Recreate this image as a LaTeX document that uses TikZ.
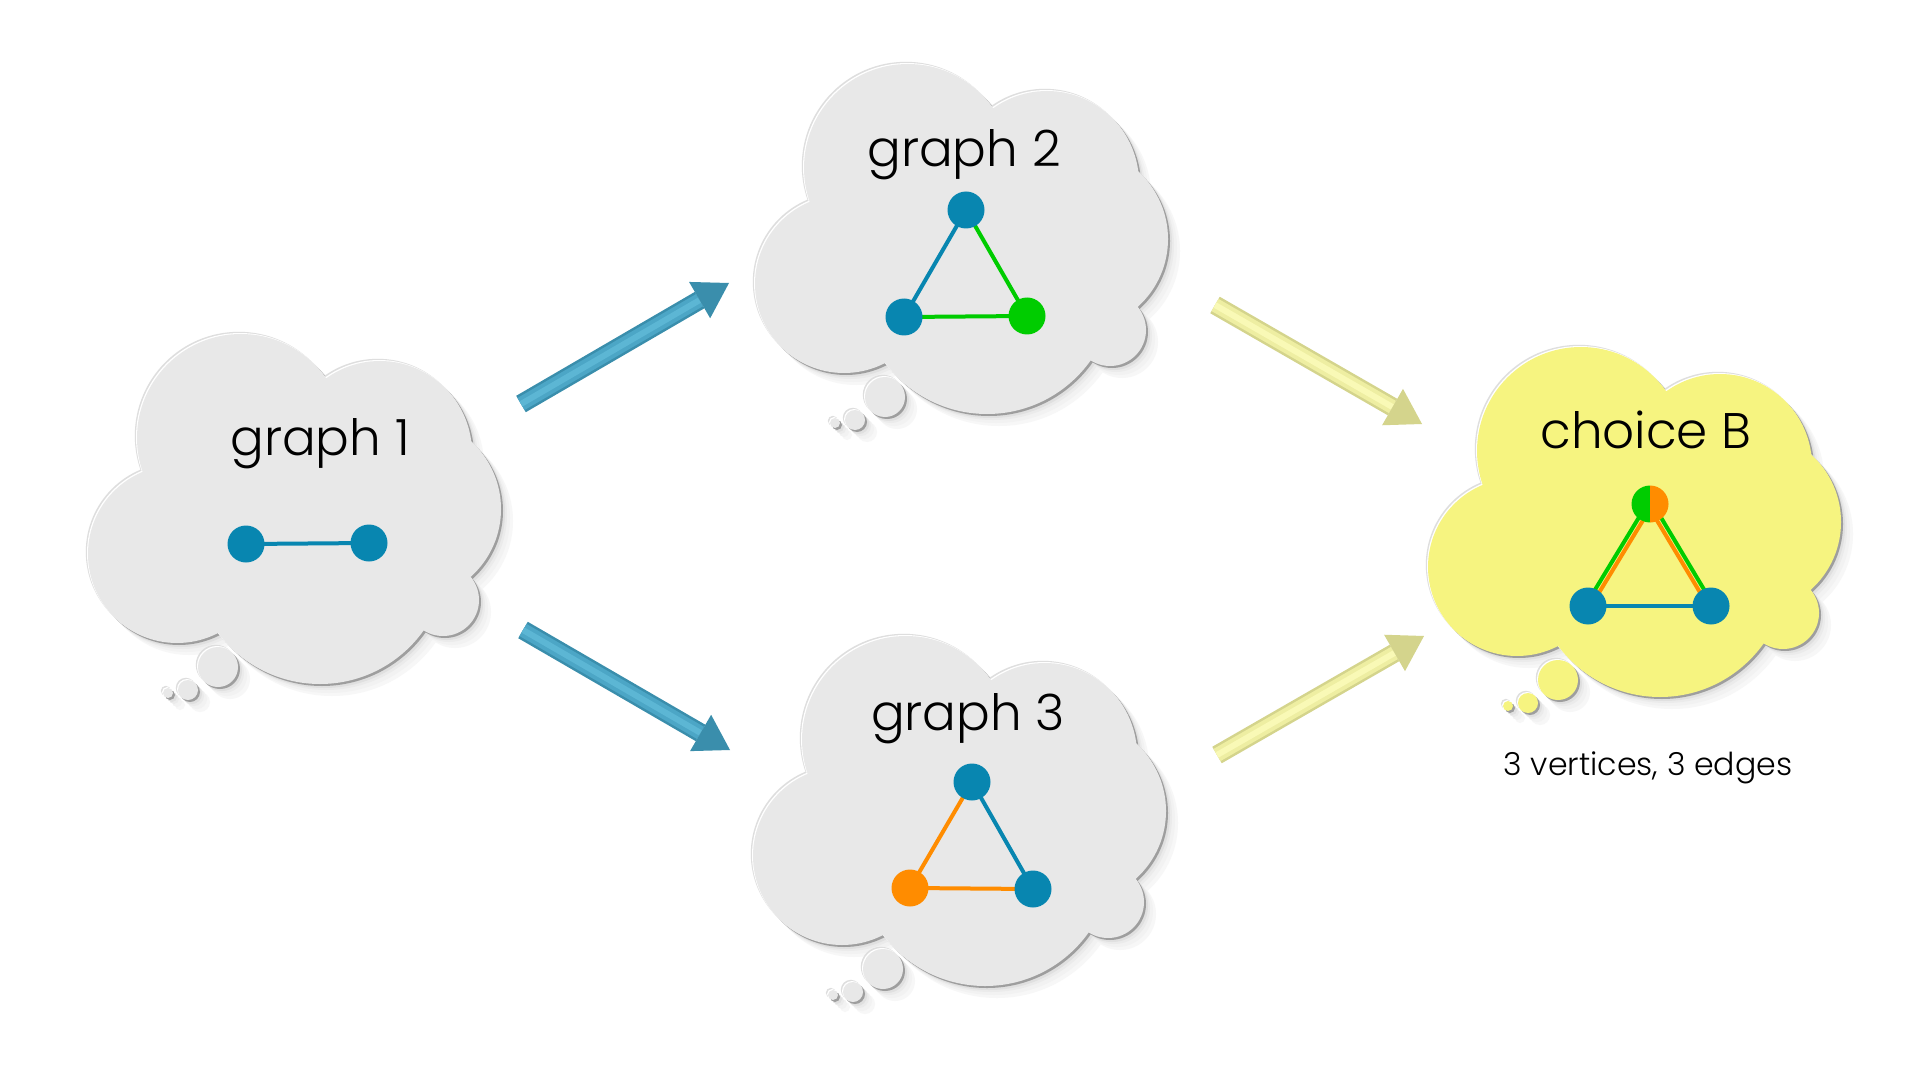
\documentclass[tikz,border=0pt]{standalone}
\usepackage{fontspec}
\setmainfont{Poppins}[UprightFont=* Light]
\usetikzlibrary{calc}
\definecolor{cloudgray}{RGB}{232,232,232}
\definecolor{cloudyellow}{RGB}{246,244,128}
\definecolor{vblue}{RGB}{8,134,176}
\definecolor{vgreen}{RGB}{0,204,0}
\definecolor{vorange}{RGB}{255,140,0}
\definecolor{abdark}{RGB}{58,142,172}
\definecolor{abmid}{RGB}{76,166,198}
\definecolor{ablight}{RGB}{92,182,212}
\definecolor{aydark}{RGB}{212,212,140}
\definecolor{aymid}{RGB}{238,238,162}
\definecolor{aylight}{RGB}{249,249,182}
\newcommand\cloudbody[1]{\path[#1] (152,104) circle[radius=104] (291,119) circle[radius=92] (321,175) circle[radius=91] (354,266) circle[radius=36] (231,223) circle[radius=127] (88,220) circle[radius=89] (129,333) circle[radius=20] (99,356) circle[radius=10] (79,359) circle[radius=5];}
\newcommand\drawcloud[2]{%
 \begin{scope}[shift={#1}]
  \cloudbody{fill=black!3, shift={(13,13)}}
  \cloudbody{fill=black!5, shift={(10,10)}}
  \cloudbody{fill=black!8, shift={(7,7)}}
  \cloudbody{fill=black!12, shift={(5,5)}}
  \cloudbody{fill=black!38, shift={(3,3)}}
  \cloudbody{fill=black!13, shift={(-1.2,-1.2)}}
  \cloudbody{fill=white}
  \cloudbody{fill=#2, shift={(1,1)}}
 \end{scope}}
\newcommand\fatarrow[5]{%
 \coordinate (hb) at ($(#2)!17pt!(#1)$);
 \draw[line width=9.5pt, #3] (#1) -- (hb);
 \draw[line width=7pt, #4] (#1) -- (hb);
 \draw[line width=3pt, #5] (#1) -- (hb);
 \fill[#3] (#2) -- ($(hb)!10.5pt!90:(#2)$) -- ($(hb)!10.5pt!-90:(#2)$) -- cycle;}
\tikzset{
 vertex/.style={circle, inner sep=0pt, minimum size=18.5pt},
 edgeline/.style={line width=2pt},
 title/.style={anchor=base, font=\fontsize{25}{30}\selectfont},
}
\begin{document}
\begin{tikzpicture}[x=0.5pt, y=-0.5pt]
\useasboundingbox (0,0) rectangle (1920,1080);
\fill[white] (0,0) rectangle (1920,1080);
% clouds
\drawcloud{(88,333)}{cloudgray}
\drawcloud{(755,63)}{cloudgray}
\drawcloud{(753,635)}{cloudgray}
\drawcloud{(1428,346)}{cloudyellow}
% arrows
\coordinate (a1s) at (521,404); \coordinate (a1e) at (729,283);
\coordinate (a2s) at (523,630); \coordinate (a2e) at (730,750);
\coordinate (a3s) at (1215,305); \coordinate (a3e) at (1422,424);
\coordinate (a4s) at (1217,755); \coordinate (a4e) at (1424,636);
\fatarrow{a1s}{a1e}{abdark}{abmid}{ablight}
\fatarrow{a2s}{a2e}{abdark}{abmid}{ablight}
\fatarrow{a3s}{a3e}{aydark}{aymid}{aylight}
\fatarrow{a4s}{a4e}{aydark}{aymid}{aylight}
% titles
\node[title] (t1) at (320,455) {graph 1};
\node[title] (t2) at (964,167) {graph 2};
\node[title] (t3) at (968,730) {graph 3};
\node[title] (tB) at (1646,448) {choice B};
\node[anchor=base, font=\fontsize{15.8}{19}\selectfont] (cap) at (1648,775) {3 vertices, 3 edges};
% graph 1
\coordinate (c11) at (246,544); \coordinate (c12) at (369,543);
\draw[edgeline, vblue] (c11) -- (c12);
\node[vertex, fill=vblue] (v11) at (c11) {};
\node[vertex, fill=vblue] (v12) at (c12) {};
% graph 2
\coordinate (c21) at (966,210); \coordinate (c22) at (904,317); \coordinate (c23) at (1027,316);
\draw[edgeline, vblue] (c21) -- (c22);
\draw[edgeline, vgreen] (c21) -- (c23);
\draw[edgeline, vgreen] (c22) -- (c23);
\node[vertex, fill=vblue] (v21) at (c21) {};
\node[vertex, fill=vblue] (v22) at (c22) {};
\node[vertex, fill=vgreen] (v23) at (c23) {};
% graph 3
\coordinate (c31) at (972,782); \coordinate (c32) at (910,888); \coordinate (c33) at (1033,889);
\draw[edgeline, vorange] (c31) -- (c32);
\draw[edgeline, vblue] (c31) -- (c33);
\draw[edgeline, vorange] (c32) -- (c33);
\node[vertex, fill=vblue] (v31) at (c31) {};
\node[vertex, fill=vorange] (v32) at (c32) {};
\node[vertex, fill=vblue] (v33) at (c33) {};
% choice B
\coordinate (cB1) at (1650,504); \coordinate (cB2) at (1588,606); \coordinate (cB3) at (1711,606);
\draw[edgeline, vgreen] ($(cB1)+(-2.1,-1.3)$) -- ($(cB2)+(-2.1,-1.3)$);
\draw[edgeline, vorange] ($(cB1)+(2.1,1.3)$) -- ($(cB2)+(2.1,1.3)$);
\draw[edgeline, vgreen] ($(cB1)+(2.1,-1.3)$) -- ($(cB3)+(2.1,-1.3)$);
\draw[edgeline, vorange] ($(cB1)+(-2.1,1.3)$) -- ($(cB3)+(-2.1,1.3)$);
\draw[edgeline, vblue] (cB2) -- (cB3);
\fill[vgreen] (cB1) ++(0,18.5) arc[start angle=90, end angle=270, radius=18.5] -- cycle;
\fill[vorange] (cB1) ++(0,18.5) arc[start angle=90, end angle=-90, radius=18.5] -- cycle;
\node[vertex, fill=vblue] (vB2) at (cB2) {};
\node[vertex, fill=vblue] (vB3) at (cB3) {};
\end{tikzpicture}
\end{document}
